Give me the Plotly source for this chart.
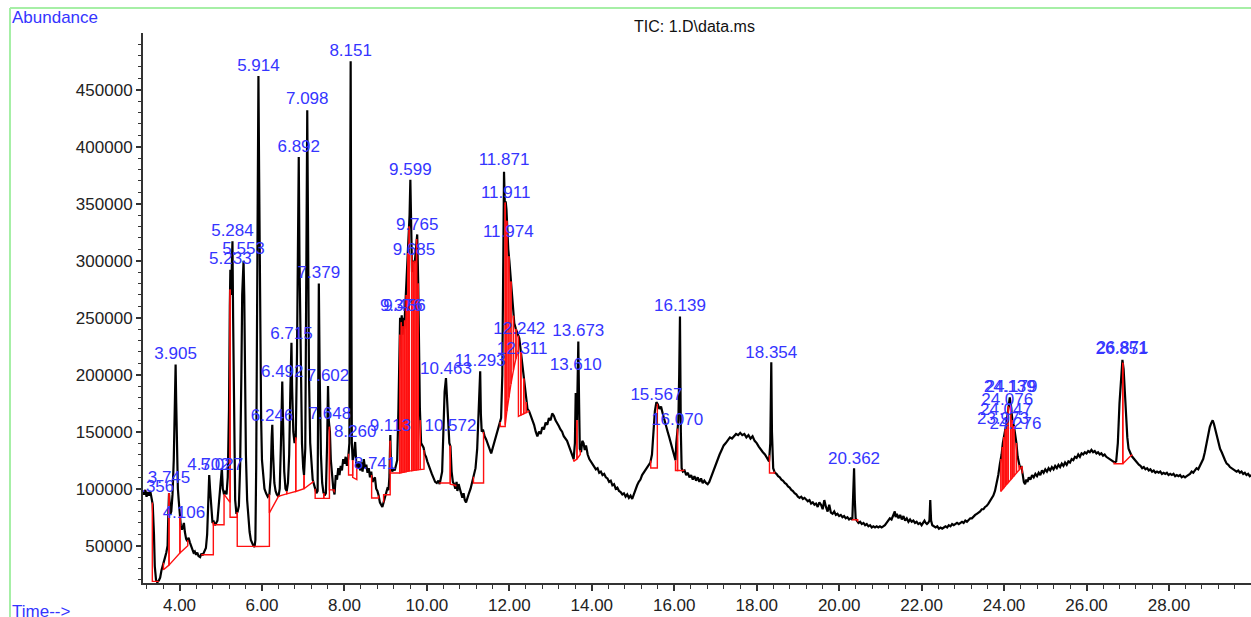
import numpy as np
import plotly.graph_objects as go

# ---------------- data ----------------
time_min = [
3.11,3.14,3.17,3.20,3.23,3.26,3.29,3.32,3.35,3.38,3.40,3.43,3.46,3.50,3.53,3.56,3.59,3.62,3.65,3.68,3.71,3.73,3.745,3.76,3.78,3.80,3.83,3.86,3.88,3.905,3.92,3.94,3.96,3.98,4.00,4.03,4.06,4.08,4.106,4.13,4.16,4.19,4.22,4.25,4.28,4.31,4.34,4.37,4.40,4.43,4.46,4.50,4.53,4.56,4.60,4.64,4.67,4.70,4.72,4.74,4.77,4.80,4.83,4.86,4.89,4.92,4.95,4.98,5.00,5.027,5.05,5.08,5.11,5.14,5.17,5.20,5.22,5.233,5.25,5.265,5.284,5.30,5.32,5.35,5.38,5.41,5.44,5.47,5.50,5.52,5.553,5.57,5.59,5.61,5.64,5.67,5.70,5.73,5.76,5.79,5.82,5.84,5.86,5.88,5.90,5.914,5.93,5.95,5.98,6.00,6.03,6.06,6.10,6.14,6.18,6.21,6.235,6.25,6.27,6.30,6.33,6.36,6.40,6.43,6.46,6.48,6.492,6.51,6.54,6.57,6.60,6.63,6.66,6.69,6.715,6.73,6.76,6.79,6.82,6.85,6.872,6.892,6.91,6.94,6.97,7.00,7.02,7.05,7.07,7.085,7.098,7.115,7.14,7.17,7.20,7.23,7.26,7.29,7.32,7.35,7.365,7.379,7.40,7.43,7.46,7.49,7.52,7.55,7.58,7.602,7.62,7.648,7.67,7.70,7.73,7.76,7.79,7.82,7.85,7.88,7.91,7.94,7.97,8.00,8.03,8.06,8.09,8.12,8.14,8.151,8.165,8.18,8.20,8.23,8.26,8.29,8.32,8.35,8.38,8.41,8.44,8.47,8.50,8.53,8.56,8.59,8.62,8.65,8.68,8.71,8.74,8.77,8.80,8.83,8.86,8.89,8.92,8.95,8.98,9.01,9.04,9.07,9.09,9.113,9.13,9.16,9.19,9.22,9.25,9.28,9.31,9.33,9.35,9.37,9.39,9.41,9.43,9.45,9.47,9.50,9.53,9.56,9.58,9.599,9.62,9.64,9.66,9.685,9.71,9.735,9.765,9.79,9.81,9.83,9.86,9.89,9.92,9.95,9.98,10.01,10.04,10.08,10.12,10.16,10.20,10.24,10.28,10.31,10.34,10.37,10.40,10.43,10.463,10.49,10.52,10.545,10.572,10.60,10.63,10.66,10.69,10.72,10.74,10.77,10.80,10.83,10.86,10.89,10.92,10.95,10.98,11.02,11.06,11.10,11.14,11.18,11.22,11.26,11.293,11.31,11.33,11.36,11.40,11.44,11.48,11.52,11.56,11.60,11.64,11.68,11.72,11.76,11.80,11.83,11.85,11.871,11.89,11.911,11.93,11.95,11.974,12.00,12.03,12.06,12.09,12.12,12.16,12.20,12.242,12.28,12.311,12.34,12.37,12.40,12.44,12.48,12.52,12.56,12.60,12.64,12.68,12.72,12.76,12.80,12.84,12.88,12.92,12.96,13.00,13.04,13.08,13.12,13.16,13.20,13.24,13.28,13.32,13.36,13.40,13.44,13.48,13.52,13.56,13.59,13.61,13.64,13.66,13.673,13.69,13.71,13.74,13.77,13.80,13.83,13.86,13.90,13.94,13.98,14.02,14.06,14.10,14.14,14.18,14.22,14.26,14.30,14.34,14.38,14.42,14.46,14.50,14.54,14.58,14.62,14.66,14.70,14.74,14.78,14.82,14.86,14.90,14.94,14.98,15.02,15.06,15.10,15.14,15.18,15.22,15.26,15.30,15.34,15.38,15.42,15.46,15.50,15.53,15.567,15.60,15.64,15.68,15.72,15.76,15.80,15.84,15.88,15.92,15.96,16.00,16.03,16.05,16.07,16.10,16.12,16.139,16.16,16.18,16.21,16.25,16.29,16.33,16.37,16.41,16.45,16.49,16.53,16.57,16.61,16.65,16.69,16.73,16.77,16.81,16.85,16.89,16.93,16.97,17.01,17.05,17.10,17.15,17.20,17.25,17.30,17.35,17.40,17.45,17.50,17.55,17.60,17.65,17.70,17.75,17.80,17.85,17.90,17.95,18.00,18.05,18.10,18.15,18.20,18.25,18.30,18.33,18.354,18.37,18.40,18.44,18.48,18.52,18.56,18.60,18.64,18.68,18.72,18.76,18.80,18.84,18.88,18.92,18.96,19.00,19.04,19.08,19.12,19.16,19.20,19.24,19.28,19.32,19.36,19.40,19.44,19.48,19.52,19.56,19.60,19.64,19.68,19.72,19.76,19.80,19.84,19.88,19.92,19.96,20.00,20.04,20.08,20.12,20.16,20.20,20.24,20.28,20.32,20.34,20.362,20.38,20.40,20.43,20.47,20.51,20.55,20.59,20.63,20.67,20.71,20.75,20.79,20.83,20.87,20.91,20.95,20.99,21.03,21.07,21.11,21.15,21.19,21.23,21.27,21.31,21.35,21.37,21.40,21.44,21.48,21.52,21.56,21.60,21.64,21.68,21.72,21.76,21.80,21.84,21.88,21.92,21.96,22.00,22.04,22.07,22.10,22.13,22.16,22.19,22.21,22.23,22.26,22.30,22.34,22.38,22.42,22.46,22.50,22.54,22.58,22.62,22.66,22.70,22.74,22.78,22.82,22.86,22.90,22.94,22.98,23.02,23.06,23.10,23.14,23.18,23.22,23.26,23.30,23.34,23.38,23.42,23.46,23.50,23.54,23.58,23.62,23.66,23.70,23.74,23.78,23.82,23.86,23.90,23.94,23.97,24.00,24.03,24.06,24.08,24.10,24.12,24.139,24.16,24.18,24.21,24.24,24.276,24.30,24.33,24.36,24.39,24.42,24.45,24.48,24.51,24.54,24.57,24.60,24.64,24.68,24.72,24.76,24.80,24.84,24.88,24.92,24.96,25.00,25.04,25.08,25.12,25.16,25.20,25.24,25.28,25.32,25.36,25.40,25.44,25.48,25.52,25.56,25.60,25.64,25.68,25.72,25.76,25.80,25.84,25.88,25.92,25.96,26.00,26.04,26.08,26.12,26.16,26.20,26.24,26.28,26.32,26.36,26.40,26.44,26.48,26.52,26.56,26.60,26.64,26.68,26.72,26.76,26.80,26.84,26.871,26.90,26.93,26.96,26.99,27.02,27.05,27.08,27.11,27.15,27.19,27.23,27.27,27.31,27.35,27.39,27.43,27.47,27.51,27.55,27.59,27.63,27.67,27.71,27.75,27.79,27.83,27.87,27.91,27.95,27.99,28.03,28.07,28.11,28.15,28.19,28.23,28.27,28.31,28.35,28.39,28.43,28.47,28.51,28.55,28.59,28.63,28.67,28.71,28.75,28.79,28.83,28.87,28.91,28.95,28.99,29.03,29.06,29.09,29.12,29.16,29.20,29.24,29.28,29.32,29.36,29.40,29.44,29.48,29.52,29.56,29.60,29.64,29.68,29.72,29.76,29.80,29.84,29.88,29.92,29.96,30.00]

abundance = [
97000,95000,99000,93000,97000,94000,98000,92000,86000,60000,32000,20000,17800,19500,22000,28000,33000,36000,40000,44000,50000,80000,96000,88000,78000,80000,95000,125000,160000,209000,175000,120000,100000,90000,80000,68000,64000,66000,70000,62000,56000,54000,57000,53000,50000,47000,44000,45000,42000,44000,41000,40000,43000,41500,45000,48000,60000,95000,112000,100000,80000,70000,71000,68000,70000,72000,85000,100000,112000,118000,100000,95000,98000,95000,110000,170000,260000,292000,270000,300000,317000,250000,150000,90000,78000,80000,85000,120000,200000,270000,300000,270000,200000,130000,90000,72000,62000,55000,52000,50000,49000,55000,120000,250000,400000,462000,380000,250000,160000,125000,108000,100000,96000,93000,95000,110000,145000,156000,130000,105000,98000,95000,93000,100000,140000,190000,194000,160000,115000,100000,98000,105000,130000,190000,228000,190000,150000,140000,145000,220000,340000,391000,300000,190000,140000,118000,112000,135000,250000,380000,432000,340000,200000,140000,118000,108000,104000,100000,96000,98000,200000,280000,200000,130000,105000,97000,94000,96000,140000,190000,160000,150000,125000,112000,100000,95000,112000,108000,118000,112000,120000,116000,126000,122000,128000,120000,126000,140000,300000,475000,300000,140000,125000,130000,141000,120000,118000,124000,116000,123000,115000,126000,118000,121000,114000,118000,110000,115000,106000,108000,110000,100000,98000,94000,88000,86000,84000,88000,92000,97000,100000,99000,110000,147000,120000,115000,118000,116000,120000,125000,170000,220000,250000,240000,252000,235000,250000,240000,255000,270000,300000,320000,340000,371000,320000,290000,300000,298000,300000,315000,323000,280000,220000,170000,140000,138000,136000,130000,128000,124000,120000,117000,113000,110000,106000,105000,107000,104000,109000,115000,150000,185000,197000,175000,150000,140000,137000,115000,106000,104000,100000,106000,98000,104000,100000,95000,92000,96000,90000,88000,92000,96000,100000,106000,112000,118000,135000,170000,203000,165000,150000,152000,146000,143000,138000,135000,131000,136000,140000,146000,150000,155000,162000,200000,280000,378000,350000,352000,345000,325000,310000,300000,285000,275000,255000,245000,240000,236000,232000,220000,210000,200000,190000,178000,170000,168000,164000,160000,156000,150000,146000,150000,148000,154000,152000,158000,156000,162000,160000,166000,164000,160000,158000,155000,152000,150000,146000,144000,142000,138000,134000,130000,126000,140000,184000,160000,200000,229000,180000,135000,132000,142000,140000,134000,138000,130000,126000,124000,122000,120000,117000,118000,114000,115000,112000,113000,110000,109000,106000,107000,103000,104000,100000,101000,98000,97000,95000,96000,93000,95000,92000,94000,91000,95000,100000,103000,106000,108000,112000,114000,117000,118000,120000,123000,130000,150000,168000,176000,174000,170000,172000,166000,160000,155000,150000,145000,140000,134000,128000,125000,140000,149000,160000,200000,251000,150000,118000,115000,116000,112000,114000,110000,112000,108000,111000,107000,110000,106000,109000,105000,107000,105000,104000,106000,110000,114000,118000,122000,126000,130000,134000,138000,140000,143000,145000,144000,146000,148000,147000,149000,147000,148000,145000,147000,144000,146000,142000,140000,137000,134000,132000,130000,127000,124000,140000,211000,150000,118000,114000,113000,111000,110000,108000,107000,105000,104000,102000,101000,99000,98000,96000,95000,93000,92000,93000,91000,92000,90000,89000,90000,87000,88000,86000,87000,84000,88000,86000,82000,90000,84000,80000,86000,79000,78000,80000,77000,78000,76000,77000,75000,76000,74000,75000,73000,74000,73000,90000,118000,90000,74000,72000,70000,71000,69000,70000,68000,69000,67000,68000,66000,67000,66000,67000,66000,67000,66000,67000,68000,70000,72000,74000,73000,76000,80000,75000,78000,74000,77000,73000,76000,72000,74000,71000,73000,71000,72000,70000,71000,69000,70000,68000,70000,72000,70000,69000,70000,72000,90000,72000,68000,67000,66000,67000,65000,66000,65000,66000,67000,66000,68000,67000,69000,68000,69000,70000,69000,70000,71000,70000,72000,71000,73000,74000,74000,76000,77000,78000,79000,80000,82000,82000,84000,85000,87000,89000,92000,94000,98000,104000,112000,122000,130000,140000,148000,152000,158000,165000,172000,176000,180000,174000,165000,158000,155000,148000,140000,128000,122000,118000,120000,110000,106000,104000,108000,106000,110000,108000,112000,110000,113000,111000,114000,112000,116000,114000,117000,115000,118000,116000,119000,117000,120000,118000,121000,119000,122000,120000,123000,121000,124000,123000,126000,125000,128000,127000,130000,128000,131000,130000,132000,131000,133000,132000,134000,132000,133000,131000,132000,130000,131000,129000,130000,128000,127000,126000,125000,124000,123000,124000,140000,175000,200000,213000,205000,180000,160000,145000,135000,132000,130000,128000,126000,124000,123000,121000,120000,118000,119000,117000,118000,116000,117000,115000,116000,114000,115000,114000,115000,113000,114000,113000,114000,112000,113000,112000,113000,111000,112000,111000,112000,110000,111000,110000,111000,112000,113000,115000,114000,116000,118000,117000,120000,122000,126000,132000,140000,148000,154000,158000,160000,157000,152000,146000,140000,135000,132000,128000,125000,122000,121000,119000,118000,117000,116000,115000,116000,114000,115000,113000,114000,112000,113000,111000,112000]

# integration events: start / end time and baseline abundance at each end
int_start = [3.34,3.61,3.745,4.01,4.54,4.82,5.08,5.226,5.40,5.81,6.18,6.40,6.60,6.82,7.02,7.29,7.50,7.636,8.10,8.20,8.66,8.95,9.11,9.34,9.38,9.42,9.46,9.50,9.54,9.57,9.63,9.67,9.71,9.75,9.79,9.84,10.32,10.566,11.13,11.78,11.90,11.94,11.99,12.04,12.10,12.16,12.22,12.28,12.35,12.41,13.56,13.64,15.43,16.03,16.08,18.31,20.32,23.92,23.96,23.99,24.03,24.06,24.10,24.16,24.20,24.24,24.30,24.37,26.67,26.88]
int_end   = [3.485,3.745,4.01,4.20,4.82,5.08,5.226,5.40,5.81,6.18,6.40,6.60,6.82,7.02,7.24,7.50,7.636,7.75,8.20,8.30,8.83,9.11,9.34,9.38,9.42,9.46,9.50,9.54,9.57,9.63,9.67,9.71,9.75,9.79,9.84,9.93,10.566,10.70,11.375,11.90,11.94,11.99,12.04,12.10,12.16,12.22,12.28,12.35,12.41,12.47,13.64,13.72,15.59,16.08,16.23,18.43,20.45,23.96,23.99,24.03,24.06,24.10,24.16,24.20,24.24,24.30,24.37,24.44,26.88,27.10]
base_start = [18700,28900,33000,43600,42100,68400,95000,75000,49400,49400,78700,93300,95500,97600,100000,91500,91500,99000,112000,110000,91800,94700,113800,113800,114100,114400,114700,115000,115300,115500,115800,116100,116300,116500,116700,116900,105000,104000,105000,154600,156000,168000,180000,192000,204000,214000,163400,164600,165800,166800,124000,126000,118200,116000,116000,113800,72800,97600,99300,100600,102300,103600,105300,107800,109500,111200,113800,116700,121900,121900]
base_end   = [18700,33000,43600,50000,42100,68400,88000,75000,49400,49400,93300,95500,97600,100000,106000,91500,91500,99000,112000,108000,91800,94700,113800,114100,114400,114700,115000,115300,115500,115800,116100,116300,116500,116700,116900,117200,105000,103000,105000,154600,168000,180000,192000,204000,214000,222000,164600,165800,166800,167800,126000,130000,118200,116000,116000,113800,72800,99300,100600,102300,103600,105300,107800,109500,111200,113800,116700,119600,121900,129800]

# peak labels (retention time text) and the abundance where each label sits
peak_labels = ["3.356","3.745","3.905","4.106","4.702","5.027","5.233","5.284","5.553","5.914",
               "6.246","6.492","6.715","6.892","7.098","7.379","7.602","7.648","8.151","8.260",
               "8.741","9.113","9.376","9.456","9.599","9.685","9.765","10.463","10.572","11.293",
               "11.871","11.911","11.974","12.242","12.311","13.610","13.673","15.567","16.070","16.139",
               "18.354","20.362","23.973","24.047","24.076","24.139","24.179","24.276","26.851","26.871"]
label_abund = [93000,101000,210000,71000,113000,113000,293000,318000,302000,463000,
               156000,194000,228000,392000,434000,281000,191000,157000,476000,142000,
               114000,147000,252000,252000,371000,301000,323000,197000,147000,204000,
               380000,351000,317000,232000,214000,200000,230000,174000,152000,252000,
               211000,118000,153000,161000,170000,181000,181000,149000,214000,215000]

x_range = [3.114, 29.99]
y_range = [17300, 499700]

# ---------------- figure ----------------
W, H = 1251, 617
ML, MR, MT, MB = 143, 0, 33, 34
PW, PH = W - ML - MR, H - MT - MB

def px_x(px):
    return (px - ML) / PW

def px_y(py):
    return (H - MB - py) / PH

t_arr = np.array(time_min, dtype=float)
a_arr = np.array(abundance, dtype=float)

fig = go.Figure()

fig.add_trace(go.Scatter(x=t_arr, y=a_arr, mode="lines",
                         line=dict(color="black", width=2.2),
                         hoverinfo="skip", showlegend=False))

# integration marks: tick from curve to baseline, baseline, tick back up to curve
rx, ry = [], []
for ts, te, bs, be in zip(int_start, int_end, base_start, base_end):
    cs = float(np.interp(ts, t_arr, a_arr))
    ce = float(np.interp(te, t_arr, a_arr))
    rx += [ts, ts, te, te, None]
    ry += [cs, bs, be, ce, None]
fig.add_trace(go.Scatter(x=rx, y=ry, mode="lines",
                         line=dict(color="#ff1010", width=1.4),
                         hoverinfo="skip", showlegend=False, connectgaps=False))

LABEL_FONT = "Liberation Sans, Arial"
fig.add_trace(go.Scatter(x=[float(s) for s in peak_labels], y=label_abund,
                         mode="text", text=peak_labels, textposition="top center",
                         textfont=dict(family=LABEL_FONT, size=17, color="#3535ff"),
                         cliponaxis=True, hoverinfo="skip", showlegend=False))

axis_font = dict(family=LABEL_FONT, size=17, color="#222222")
fig.update_layout(
    width=W, height=H,
    margin=dict(l=ML, r=MR, t=MT, b=MB, pad=0),
    paper_bgcolor="white", plot_bgcolor="white",
    showlegend=False,
    xaxis=dict(range=x_range, tickmode="linear", tick0=0, dtick=2, tickformat=".2f",
               ticks="outside", ticklen=6, tickwidth=1.5, tickcolor="#333333",
               showline=True, linecolor="#333333", linewidth=2,
               showgrid=False, zeroline=False, tickfont=axis_font,
               minor=dict(dtick=0.4, ticks="outside", ticklen=4, tickwidth=1,
                          tickcolor="#333333", showgrid=False)),
    yaxis=dict(range=y_range, tickmode="linear", tick0=0, dtick=50000, tickformat="d",
               ticks="outside", ticklen=5, tickwidth=1.5, tickcolor="#333333",
               showline=True, linecolor="#333333", linewidth=2,
               showgrid=False, zeroline=False, tickfont=axis_font,
               minor=dict(dtick=10000, ticks="outside", ticklen=3, tickwidth=1,
                          tickcolor="#333333", showgrid=False)),
)

fig.add_annotation(text="TIC: 1.D\\data.ms", xref="paper", yref="paper",
                   x=px_x(694), y=px_y(26), xanchor="center", yanchor="middle",
                   showarrow=False, font=dict(family=LABEL_FONT, size=16, color="#111111"))
fig.add_annotation(text="Abundance", xref="paper", yref="paper",
                   x=px_x(10), y=px_y(18), xanchor="left", yanchor="middle",
                   showarrow=False, font=dict(family=LABEL_FONT, size=17, color="#3535ff"))
fig.add_annotation(text="Time--&gt;", xref="paper", yref="paper",
                   x=px_x(10), y=px_y(611), xanchor="left", yanchor="middle",
                   showarrow=False, font=dict(family=LABEL_FONT, size=17, color="#3535ff"))

# light green frame
fig.add_shape(type="line", xref="paper", yref="paper", x0=px_x(10), y0=px_y(8), x1=px_x(1252), y1=px_y(8),
              line=dict(color="#a6efa6", width=2))
fig.add_shape(type="line", xref="paper", yref="paper", x0=px_x(10), y0=px_y(8), x1=px_x(10), y1=px_y(618),
              line=dict(color="#a6efa6", width=2))

fig.write_html("out.html", config={"displayModeBar": False})
